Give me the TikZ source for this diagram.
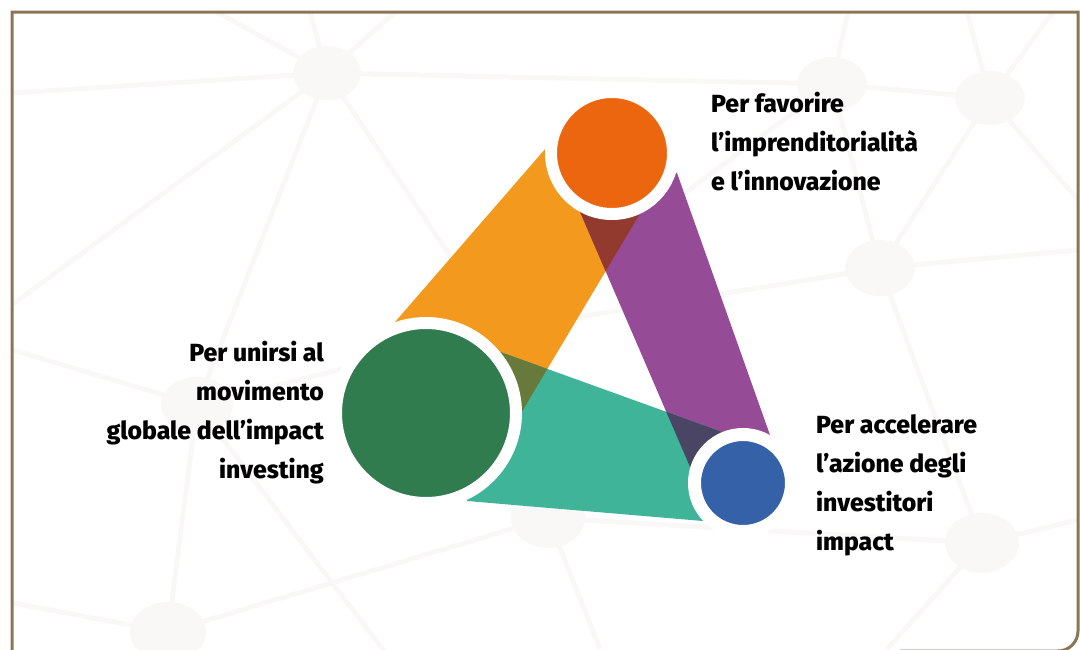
\documentclass[tikz,border=0pt]{standalone}
\usepackage{fontspec}
\setmainfont{Fira Sans}[BoldFont={Fira Sans ExtraBold}]
\definecolor{framebrown}{RGB}{140, 116, 86}
\definecolor{netgray}{RGB}{249, 248, 246}
\definecolor{bandorange}{RGB}{243, 154, 30}
\definecolor{bandpurple}{RGB}{150, 75, 150}
\definecolor{bandteal}{RGB}{63, 180, 152}
\definecolor{hubred}{RGB}{236, 102, 16}
\definecolor{hubgreen}{RGB}{49, 124, 78}
\definecolor{hubblue}{RGB}{52, 97, 168}
\definecolor{mixred}{RGB}{147, 58, 46}
\definecolor{mixolive}{RGB}{104, 122, 59}
\definecolor{mixnavy}{RGB}{75, 69, 101}
\usetikzlibrary{positioning}

\begin{document}
\begin{tikzpicture}[x=1pt, y=-1pt,
  hub/.style={circle, draw=white, inner sep=0pt},
  caption/.style={font=\bfseries\fontsize{24.8}{39}\selectfont, inner sep=0pt},
  netline/.style={draw=netgray, line width=5pt}]
  \useasboundingbox (0,0) rectangle (1080,649);

  % faint network behind everything
  \coordinate (n1) at (327,73);
  \coordinate (n2) at (832,84);
  \coordinate (n3) at (990,98);
  \coordinate (n4) at (880,268);
  \coordinate (n5) at (982,543);
  \coordinate (n6) at (548,518);
  \coordinate (n7) at (168,632);
  \coordinate (n8) at (197,405);
  \coordinate (nh) at (500,330);
  \draw[netline] (n1) -- (13,93) (n1) -- (217,12) (n1) -- (310,12) (n1) -- (395,12)
    (n1) -- (n2) (n1) -- (n8) (n1) -- (13,304) (n1) -- (nh);
  \draw[netline] (n2) -- (n3) (n2) -- (848,12) (n2) -- (n4) (n2) -- (nh);
  \draw[netline] (n3) -- (967,12) (n3) -- (1053,12) (n3) -- (n4) (n3) -- (1078,200);
  \draw[netline] (n4) -- (n5) (n4) -- (nh) (n4) -- (1078,250);
  \draw[netline] (n5) -- (n6) (n5) -- (887,649) (n5) -- (1078,520);
  \draw[netline] (n6) -- (n7) (n6) -- (nh) (n6) -- (600,649);
  \draw[netline] (n7) -- (n8) (n7) -- (13,603) (n8) -- (13,350) (n8) -- (400,672) (n8) -- (nh);
  \foreach \n/\rx/\ry in {n1/34/27, n2/35/27, n3/35/27, n4/35/28, n5/37/30, n6/37/30, n7/38/30, n8/36/28}
    \fill[netgray] (\n) ellipse [x radius=\rx, y radius=\ry];

  % frame
  \draw[framebrown, line width=3pt] (12,670) -- (12,12) -- (1078,12) -- (1078,631)
    arc[start angle=0, end angle=90, radius=20] -- (900,651);

  % the three bands
  \fill[bandorange] (395,322) -- (546,148) -- (660,180) -- (505,440) -- cycle;
  \fill[bandpurple] (565,177) -- (677,173) -- (770,435) -- (700,490) -- cycle;
  \fill[bandteal] (470,341) -- (750,442) -- (703,521) -- (467,501) -- cycle;

  % where two bands cross
  \begin{scope}
    \clip (395,322) -- (546,148) -- (660,180) -- (505,440) -- cycle;
    \fill[mixred] (565,177) -- (677,173) -- (770,435) -- (700,490) -- cycle;
    \fill[mixolive] (470,341) -- (750,442) -- (703,521) -- (467,501) -- cycle;
  \end{scope}
  \begin{scope}
    \clip (565,177) -- (677,173) -- (770,435) -- (700,490) -- cycle;
    \fill[mixnavy] (470,341) -- (750,442) -- (703,521) -- (467,501) -- cycle;
  \end{scope}

  % hubs
  \node[hub, fill=hubred, line width=12pt, minimum size=122pt] (impr) at (612,153) {};
  \node[hub, fill=hubgreen, line width=12pt, minimum size=180pt] (glob) at (426,413) {};
  \node[hub, fill=hubblue, line width=13pt, minimum size=97pt] (acc) at (743,483) {};

  % captions (base = last line)
  \node[caption, anchor=base west, align=left] (imprtext) at (711,190)
    {Per favorire\\l’imprenditorialità\\e l’innovazione};
  \node[caption, anchor=base east, align=right] (globtext) at (324,478)
    {Per unirsi al\\movimento\\globale dell’impact\\investing};
  \node[caption, anchor=base west, align=left] (acctext) at (816,550)
    {Per accelerare\\l’azione degli\\investitori\\impact};
\end{tikzpicture}
\end{document}
